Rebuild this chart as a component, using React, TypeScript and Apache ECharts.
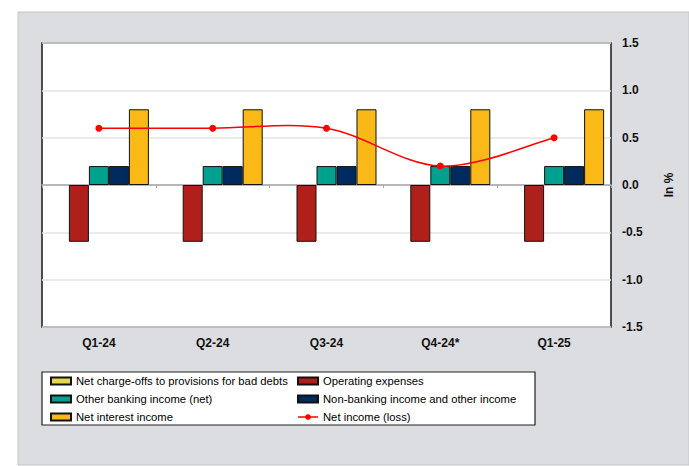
import React, { useEffect, useRef } from "react";
import * as echarts from "echarts";

const quarters = ["Q1-24", "Q2-24", "Q3-24", "Q4-24*", "Q1-25"];
const netChargeOffs = [0, 0, 0, 0, 0];
const operatingExpenses = [-0.6, -0.6, -0.6, -0.6, -0.6];
const otherBankingIncome = [0.2, 0.2, 0.2, 0.2, 0.2];
const nonBankingIncome = [0.2, 0.2, 0.2, 0.2, 0.2];
const netInterestIncome = [0.8, 0.8, 0.8, 0.8, 0.8];
const netIncome = [0.6, 0.6, 0.6, 0.2, 0.5];

const FONT = "'Liberation Sans', Arial, sans-serif";
const LINE_RED = "#ff0000";

export default function App() {
  const ref = useRef<HTMLDivElement>(null);

  useEffect(() => {
    document.body.style.margin = "0";
    const chart = echarts.init(ref.current!, null, { renderer: "svg" });

    const barItem = (color: string) => ({
      color,
      borderColor: "#111",
      borderWidth: 1,
    });

    const legendCommon = {
      orient: "vertical",
      top: 374,
      padding: 0,
      itemWidth: 20,
      itemHeight: 7,
      itemGap: 4,
      textStyle: { fontFamily: FONT, fontSize: 11.25, color: "#000", lineHeight: 14 },
    };

    // Catmull-Rom style smoothing of the net income curve, mapped through the axes
    const renderCurve = (params: any, api: any) => {
      if (params.dataIndex !== 0) return null;
      const pts = netIncome.map((v, i) => api.coord([i, v]));
      const children = [];
      for (let i = 0; i < pts.length - 1; i++) {
        const p0 = pts[Math.max(i - 1, 0)];
        const p1 = pts[i];
        const p2 = pts[i + 1];
        const p3 = pts[Math.min(i + 2, pts.length - 1)];
        children.push({
          type: "bezierCurve",
          shape: {
            x1: p1[0],
            y1: p1[1],
            x2: p2[0],
            y2: p2[1],
            cpx1: p1[0] + (p2[0] - p0[0]) / 6,
            cpy1: p1[1] + (p2[1] - p0[1]) / 6,
            cpx2: p2[0] - (p3[0] - p1[0]) / 6,
            cpy2: p2[1] - (p3[1] - p1[1]) / 6,
          },
          style: { stroke: LINE_RED, lineWidth: 1.5, fill: "none" },
        });
      }
      return { type: "group", children };
    };

    chart.setOption({
      animation: false,
      backgroundColor: "#ffffff",
      graphic: [
        {
          type: "rect",
          shape: { x: 18, y: 12, width: 671, height: 453 },
          style: { fill: "#dcdde0", stroke: "#c4c5c8", lineWidth: 1 },
          z: -10,
        },
        {
          type: "rect",
          shape: { x: 42, y: 372, width: 493, height: 53 },
          style: { fill: "#ffffff", stroke: "#222", lineWidth: 1.2 },
          z: -5,
        },
      ],
      grid: {
        left: 42,
        top: 43,
        right: 78,
        bottom: 139,
        show: true,
        backgroundColor: "#ffffff",
        borderColor: "#1a1a1a",
        borderWidth: 1.5,
      },
      legend: [
        {
          ...legendCommon,
          left: 50,
          data: [
            { name: "Net charge-offs to provisions for bad debts", icon: "rect" },
            { name: "Other banking income (net)", icon: "rect" },
            { name: "Net interest income", icon: "rect" },
          ],
        },
        {
          ...legendCommon,
          left: 297,
          data: [
            { name: "Operating expenses", icon: "rect" },
            { name: "Non-banking income and other income", icon: "rect" },
            {
              name: "Net income (loss)",
              lineStyle: { color: LINE_RED, width: 1.5, opacity: 1 },
            },
          ],
        },
      ],
      xAxis: [
        {
          type: "category",
          data: quarters,
          position: "bottom",
          axisLine: { show: false, onZero: false },
          axisTick: { show: false },
          axisLabel: {
            fontFamily: FONT,
            fontSize: 12,
            fontWeight: "bold",
            color: "#111",
            margin: 10,
          },
        },
        {
          type: "category",
          data: quarters,
          position: "top",
          axisLine: { show: true, onZero: true, lineStyle: { color: "#a6a6a6", width: 1.5 } },
          axisTick: { show: true, inside: true, length: 3, lineStyle: { color: "#a6a6a6" } },
          axisLabel: { show: false },
        },
      ],
      yAxis: {
        type: "value",
        position: "right",
        min: -1.5,
        max: 1.5,
        interval: 0.5,
        name: "In %",
        nameLocation: "middle",
        nameRotate: 90,
        nameGap: 52,
        nameTextStyle: { fontFamily: FONT, fontSize: 12, fontWeight: "bold", color: "#111" },
        axisLine: { show: false },
        axisTick: { show: false },
        axisLabel: {
          fontFamily: FONT,
          fontSize: 12,
          fontWeight: "bold",
          color: "#111",
          margin: 11,
          formatter: (v: number) => v.toFixed(1),
        },
        splitLine: { lineStyle: { color: "#e4e4e4", width: 1.5 } },
      },
      series: [
        {
          name: "Net charge-offs to provisions for bad debts",
          type: "bar",
          barWidth: 20,
          barGap: "0%",
          itemStyle: barItem("#e2d84c"),
          data: netChargeOffs.map((v) => ({ value: v, itemStyle: { borderWidth: 0 } })),
        },
        {
          name: "Operating expenses",
          type: "bar",
          barWidth: 20,
          barGap: "0%",
          itemStyle: barItem("#b0201a"),
          data: operatingExpenses,
        },
        {
          name: "Other banking income (net)",
          type: "bar",
          barWidth: 20,
          barGap: "0%",
          itemStyle: barItem("#00a18f"),
          data: otherBankingIncome,
        },
        {
          name: "Non-banking income and other income",
          type: "bar",
          barWidth: 20,
          barGap: "0%",
          itemStyle: barItem("#002b5e"),
          data: nonBankingIncome,
        },
        {
          name: "Net interest income",
          type: "bar",
          barWidth: 20,
          barGap: "0%",
          itemStyle: barItem("#fbb917"),
          data: netInterestIncome,
        },
        {
          name: "Net income curve",
          type: "custom",
          renderItem: renderCurve,
          z: 4,
          silent: true,
          data: netIncome.map((v, i) => [i, v]),
        },
        {
          name: "Net income (loss)",
          type: "line",
          symbol: "circle",
          symbolSize: 7,
          z: 5,
          lineStyle: { color: LINE_RED, width: 1.5, opacity: 0 },
          itemStyle: { color: LINE_RED },
          data: netIncome,
        },
      ],
    });

    return () => chart.dispose();
  }, []);

  return (
    <div
      ref={ref}
      style={{ position: "absolute", left: 0, top: 0, width: 689, height: 466 }}
    />
  );
}
